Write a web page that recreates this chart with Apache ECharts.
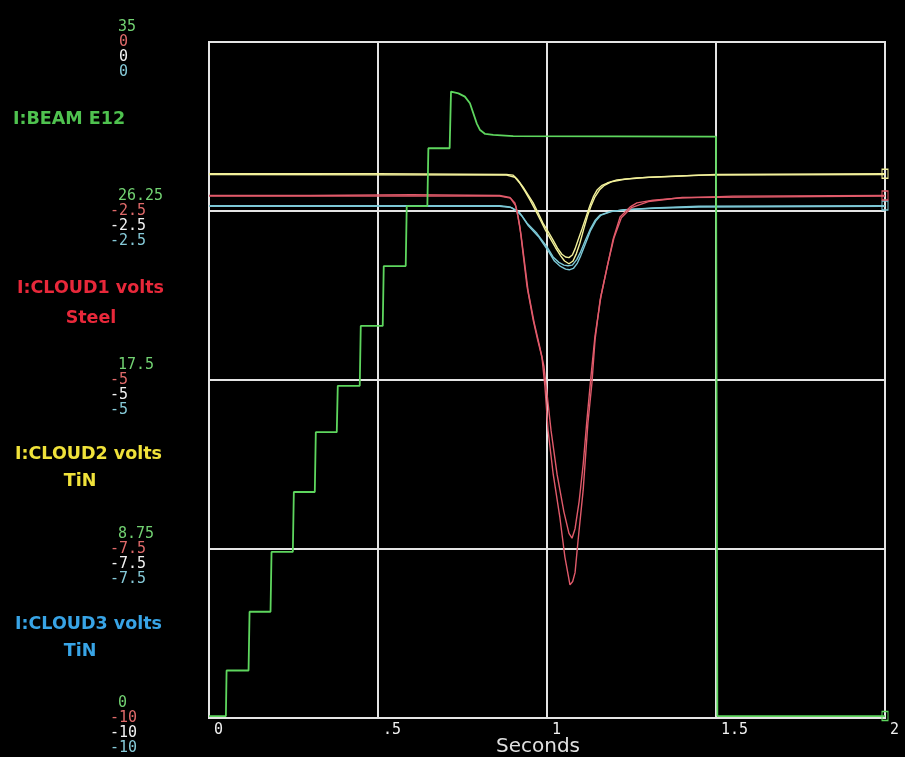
<!DOCTYPE html>
<html>
<head>
<meta charset="utf-8">
<script src="https://cdn.jsdelivr.net/npm/echarts@6/dist/echarts.min.js"></script>
<style>
html,body{margin:0;padding:0;background:#000;}
#chart{width:905px;height:757px;}
</style>
</head>
<body>
<div id="chart"></div>
<script>
// ---- tick labels ----
const timeTicks = ['0', '.5', '1', '1.5', '2'];
const beamTicks = ['0', '8.75', '17.5', '26.25', '35'];
const cloudTicks = ['-10', '-7.5', '-5', '-2.5', '0'];

// ---- series names ----
const seriesNames = ['I:BEAM E12', 'I:CLOUD1 volts', 'I:CLOUD2 volts', 'I:CLOUD3 volts'];
const seriesSubNames = ['', 'Steel', 'TiN', 'TiN'];

// ---- data: [seconds, value] ----
const beamE12 = [[0,0.1],[0.05,0.1],[0.052,2.46],[0.117,2.46],[0.12,5.5],[0.182,5.5],[0.185,8.6],[0.248,8.6],[0.251,11.7],[0.313,11.7],[0.316,14.8],[0.378,14.8],[0.381,17.2],[0.446,17.2],[0.449,20.3],[0.514,20.3],[0.517,23.4],[0.582,23.4],[0.585,26.5],[0.646,26.5],[0.649,29.5],[0.712,29.5],[0.716,32.43],[0.738,32.34],[0.757,32.17],[0.772,31.83],[0.782,31.31],[0.792,30.79],[0.802,30.44],[0.817,30.24],[0.841,30.19],[0.9,30.13],[1.5,30.1],[1.502,15],[1.504,0.1],[2,0.1]];

const cloud1SweepA = [[0,-2.27],[0.3,-2.27],[0.6,-2.26],[0.86,-2.27],[0.89,-2.3],[0.905,-2.38],[0.911,-2.49],[0.92,-2.74],[0.929,-3.12],[0.941,-3.62],[0.959,-4.11],[0.972,-4.4],[0.985,-4.66],[0.994,-5.1],[1.003,-5.74],[1.018,-6.38],[1.038,-7.03],[1.053,-7.62],[1.068,-8.03],[1.076,-7.98],[1.083,-7.85],[1.092,-7.37],[1.107,-6.63],[1.121,-5.64],[1.133,-5.04],[1.142,-4.41],[1.157,-3.82],[1.178,-3.33],[1.195,-2.93],[1.216,-2.59],[1.246,-2.44],[1.266,-2.38],[1.314,-2.34],[1.385,-2.31],[1.55,-2.28],[2,-2.27]];
const cloud1SweepB = [[0,-2.28],[0.86,-2.28],[0.892,-2.31],[0.907,-2.42],[0.914,-2.58],[0.923,-2.85],[0.932,-3.2],[0.944,-3.68],[0.962,-4.15],[0.978,-4.5],[0.991,-4.8],[1.0,-5.2],[1.012,-5.75],[1.03,-6.4],[1.05,-6.95],[1.065,-7.27],[1.074,-7.34],[1.083,-7.2],[1.095,-6.8],[1.107,-6.25],[1.118,-5.6],[1.13,-4.95],[1.142,-4.35],[1.16,-3.75],[1.18,-3.28],[1.198,-2.9],[1.22,-2.6],[1.25,-2.45],[1.3,-2.36],[1.4,-2.3],[2,-2.28]];

const cloud2SweepA = [[0,-1.95],[0.5,-1.95],[0.88,-1.96],[0.9,-1.97],[0.912,-2.03],[0.929,-2.145],[0.944,-2.26],[0.959,-2.38],[0.974,-2.53],[0.988,-2.68],[1.003,-2.8],[1.018,-2.93],[1.031,-3.05],[1.044,-3.14],[1.055,-3.18],[1.065,-3.19],[1.075,-3.15],[1.083,-3.06],[1.092,-2.93],[1.104,-2.76],[1.118,-2.55],[1.127,-2.42],[1.138,-2.28],[1.148,-2.19],[1.163,-2.12],[1.178,-2.086],[1.207,-2.04],[1.266,-2.01],[1.364,-1.99],[1.5,-1.96],[2,-1.95]];
const cloud2SweepB = [[0,-1.96],[0.88,-1.97],[0.905,-2.0],[0.92,-2.09],[0.935,-2.21],[0.95,-2.34],[0.965,-2.48],[0.98,-2.63],[0.995,-2.78],[1.01,-2.91],[1.025,-3.04],[1.04,-3.16],[1.052,-3.24],[1.065,-3.28],[1.077,-3.24],[1.087,-3.13],[1.097,-2.98],[1.108,-2.78],[1.12,-2.57],[1.13,-2.43],[1.142,-2.29],[1.155,-2.19],[1.17,-2.12],[1.19,-2.07],[1.23,-2.03],[1.3,-2.0],[1.45,-1.97],[2,-1.96]];

const cloud3SweepA = [[0,-2.42],[0.86,-2.42],[0.89,-2.44],[0.905,-2.48],[0.92,-2.53],[0.941,-2.68],[0.97,-2.83],[0.985,-2.93],[1.0,-3.03],[1.018,-3.18],[1.035,-3.26],[1.05,-3.3],[1.062,-3.31],[1.075,-3.3],[1.088,-3.22],[1.098,-3.12],[1.112,-2.95],[1.127,-2.78],[1.142,-2.64],[1.157,-2.56],[1.186,-2.51],[1.225,-2.485],[1.314,-2.456],[1.45,-2.43],[2,-2.42]];
const cloud3SweepB = [[0,-2.43],[0.86,-2.43],[0.895,-2.45],[0.91,-2.5],[0.925,-2.57],[0.945,-2.72],[0.975,-2.88],[0.99,-2.99],[1.005,-3.1],[1.022,-3.24],[1.04,-3.32],[1.055,-3.36],[1.066,-3.37],[1.078,-3.35],[1.09,-3.27],[1.1,-3.16],[1.114,-2.98],[1.128,-2.8],[1.144,-2.65],[1.16,-2.56],[1.19,-2.51],[1.23,-2.48],[1.32,-2.46],[1.45,-2.44],[2,-2.43]];

// ---- styling ----
const GRID = '#e4e4e4';
const MONO = '"DejaVu Sans Mono", monospace';
const tickColors = ['#72d272', '#e06a6a', '#f2f2f2', '#86cad8'];
const nameColors = ['#4fc24f', '#e8283a', '#f0e23a', '#38a4e6'];
const lineColors = ['#5ed65e', '#e05a6a', '#f2f09a', '#7cc8d6'];

// linesBefore / linesAfter: blank text lines placed around the label so
// the four stacked scales sit one above another at each gridline
function yAxis(min, max, interval, ticks, color, linesBefore, linesAfter, margin, main) {
  return {
    type: 'value', min: min, max: max, interval: interval, position: 'left',
    axisLine: { show: main, lineStyle: { color: GRID, width: 2 } },
    axisTick: { show: false },
    splitLine: { show: main, lineStyle: { color: GRID, width: 2 } },
    axisLabel: {
      formatter: function (v) {
        let t = ticks[Math.round((v - min) / interval)];
        if (!main && t.charAt(0) !== '-') t = ' ' + t;
        return ' \n'.repeat(linesBefore) + t + '\n '.repeat(linesAfter);
      },
      color: color, fontFamily: MONO, fontSize: 15, lineHeight: 15,
      align: 'left', verticalAlign: 'middle', margin: margin
    }
  };
}

const chart = echarts.init(document.getElementById('chart'), null, { renderer: 'canvas' });

function line(name, data, yIdx, color, width, endMark) {
  const last = data[data.length - 1];
  const s = {
    name: name, type: 'line', data: data, yAxisIndex: yIdx, showSymbol: false,
    symbol: 'none', animation: false, silent: true,
    lineStyle: { color: color, width: width }, z: yIdx === 0 ? 3 : 2
  };
  if (endMark) {
    s.markPoint = {
      silent: true, animation: false,
      symbol: 'rect', symbolSize: [6, 9],
      itemStyle: { color: 'rgba(0,0,0,0)', borderColor: color, borderWidth: 1.2 },
      label: { show: false },
      data: [{ coord: [last[0], last[1]] }]
    };
  }
  return s;
}

const labelGraphics = [];
const namePos = [[13, 119], [17, 288], [15, 454], [15, 624]];
const subPos = [[0, 0], [91, 318], [80, 481], [80, 651]];
const NAME_FONT = 'bold 17.5px "DejaVu Sans", sans-serif';
seriesNames.forEach(function (n, i) {
  labelGraphics.push({ type: 'text', x: namePos[i][0], y: namePos[i][1],
    style: { text: n, fill: nameColors[i], font: NAME_FONT, textAlign: 'left', textVerticalAlign: 'middle' } });
  if (seriesSubNames[i]) {
    labelGraphics.push({ type: 'text', x: subPos[i][0], y: subPos[i][1],
      style: { text: seriesSubNames[i], fill: nameColors[i], font: NAME_FONT, textAlign: 'center', textVerticalAlign: 'middle' } });
  }
});

chart.setOption({
  backgroundColor: '#000',
  animation: false,
  grid: { left: 209, top: 42, width: 676, height: 676, show: true, borderColor: GRID, borderWidth: 2,
          containLabel: false, outerBoundsMode: 'none' },
  xAxis: {
    type: 'value', min: 0, max: 2, interval: 0.5,
    axisLine: { show: true, lineStyle: { color: GRID, width: 2 } },
    axisTick: { show: false },
    splitLine: { show: true, lineStyle: { color: GRID, width: 2 } },
    axisLabel: {
      formatter: function (v) { return timeTicks[Math.round(v / 0.5)]; },
      color: '#f0f0f0', fontFamily: MONO, fontSize: 15, align: 'left', margin: 5, padding: [0, 0, 0, 5]
    },
    name: 'Seconds', nameLocation: 'middle', nameGap: 19, nameMoveOverlap: false,
    nameTextStyle: { color: '#e0e0e0', fontSize: 20, fontFamily: '"DejaVu Sans", sans-serif', padding: [0, 18, 0, 0] }
  },
  yAxis: [
    yAxis(0, 35, 8.75, beamTicks, tickColors[0], 0, 2, 91, true),
    yAxis(-10, 0, 2.5, cloudTicks, tickColors[1], 0, 0, 99, false),
    yAxis(-10, 0, 2.5, cloudTicks, tickColors[2], 2, 0, 99, false),
    yAxis(-10, 0, 2.5, cloudTicks, tickColors[3], 4, 0, 99, false)
  ],
  graphic: labelGraphics,
  series: [
    line(seriesNames[2], cloud2SweepA, 2, lineColors[2], 1.4, true),
    line(seriesNames[2], cloud2SweepB, 2, lineColors[2], 1.4, false),
    line(seriesNames[3], cloud3SweepA, 3, lineColors[3], 1.4, true),
    line(seriesNames[3], cloud3SweepB, 3, lineColors[3], 1.4, false),
    line(seriesNames[1], cloud1SweepA, 1, lineColors[1], 1.4, true),
    line(seriesNames[1], cloud1SweepB, 1, lineColors[1], 1.4, false),
    line(seriesNames[0], beamE12, 0, lineColors[0], 1.8, true)
  ]
});
</script>
</body>
</html>
